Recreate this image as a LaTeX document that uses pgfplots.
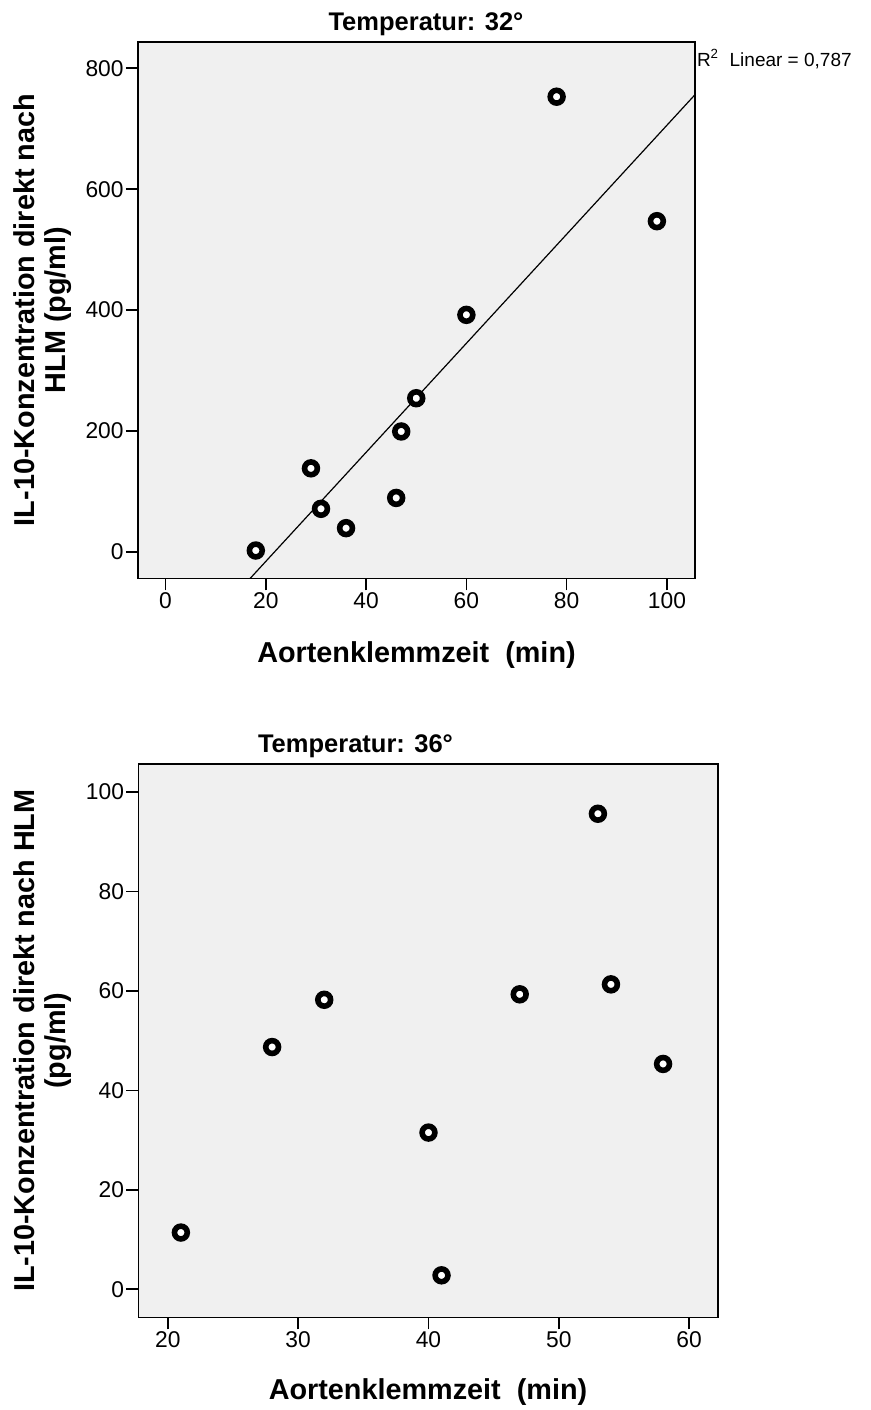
\documentclass[border=0pt]{standalone}
\usepackage{pgfplots}
\pgfplotsset{compat=1.18}
\usepackage{fontspec}
\setmainfont{Liberation Sans}
\definecolor{panel}{HTML}{F0F0F0}

% 1 px of the reference = 0.5pt
\tikzset{lab/.style={font=\fontsize{14.4}{15.5}\selectfont\bfseries, align=center, anchor=center}}
\pgfplotsset{
  spss/.style={
    scale only axis,
    axis background/.style={fill=panel},
    axis line style={line width=0.8pt},
    tick style={line width=0.8pt, black},
    tick align=outside,
    major tick length=6pt,
    xtick pos=bottom, ytick pos=left,
    /pgf/number format/assume math mode=true,
    /pgf/number format/use comma,
    ticklabel style={font=\fontsize{11.4}{13}\selectfont},
    yticklabel style={inner sep=1pt},
    xticklabel style={inner sep=1pt},
  },
  ring/.style={only marks, mark=*, mark size=3.2pt,
    mark options={line width=2.8pt, draw=black, fill=white}},
}

\begin{document}
\begin{tikzpicture}
\useasboundingbox (0,0) rectangle (435.5pt,-705pt);

% Temperatur: 32
\begin{axis}[spss,
  at={(69pt,-20.85pt)}, anchor=north west,
  width=278.5pt, height=268.3pt,
  xmin=-5.5, xmax=105.6, ymin=-44, ymax=844,
  xtick={0,20,...,100}, ytick={0,200,...,800},
  xlabel={Aortenklemmzeit\ \ (min)},
  ylabel={IL-10-Konzentration direkt nach\\HLM (pg/ml)},
  xlabel style={lab, at={(axis description cs:0.5,-0.143)}},
  ylabel style={lab, at={(axis description cs:-0.1715,0.5)}},
]
\addplot[black, line width=0.6pt] coordinates {(-5.5,-246.0) (105.6,756.3)};
\addplot[ring] coordinates {
  (18,2) (29,138) (31,71) (36,39) (46,89)
  (47,199) (50,254) (60,392) (78,753) (98,547)
};
\end{axis}

% Temperatur: 36
\begin{axis}[spss,
  at={(69.2pt,-382pt)}, anchor=north west,
  width=289.9pt, height=276.65pt,
  xmin=17.74, xmax=62.23, ymin=-5.64, ymax=105.6,
  xtick={20,30,...,60}, ytick={0,20,...,100},
  xlabel={Aortenklemmzeit\ \ (min)},
  ylabel={IL-10-Konzentration direkt nach HLM\\(pg/ml)},
  xlabel style={lab, at={(axis description cs:0.4995,-0.135)}},
  ylabel style={lab, at={(axis description cs:-0.1654,0.5)}},
]
\addplot[ring] coordinates {
  (21,11.4) (28,48.7) (32,58.2) (40,31.5) (41,2.8)
  (47,59.3) (53,95.6) (54,61.3) (58,45.3)
};
\end{axis}

\node[anchor=base, font=\fontsize{12.75}{14}\selectfont\bfseries] at (213pt,-15pt) {Temperatur: 32°};
\node[anchor=base, font=\fontsize{12.75}{14}\selectfont\bfseries] at (177.75pt,-376pt) {Temperatur: 36°};
\node[anchor=base west, inner sep=0pt, font=\fontsize{9.5}{11}\selectfont] at (348.3pt,-33pt) {R\textsuperscript{2}\ \ Linear = 0,787};
\end{tikzpicture}
\end{document}
